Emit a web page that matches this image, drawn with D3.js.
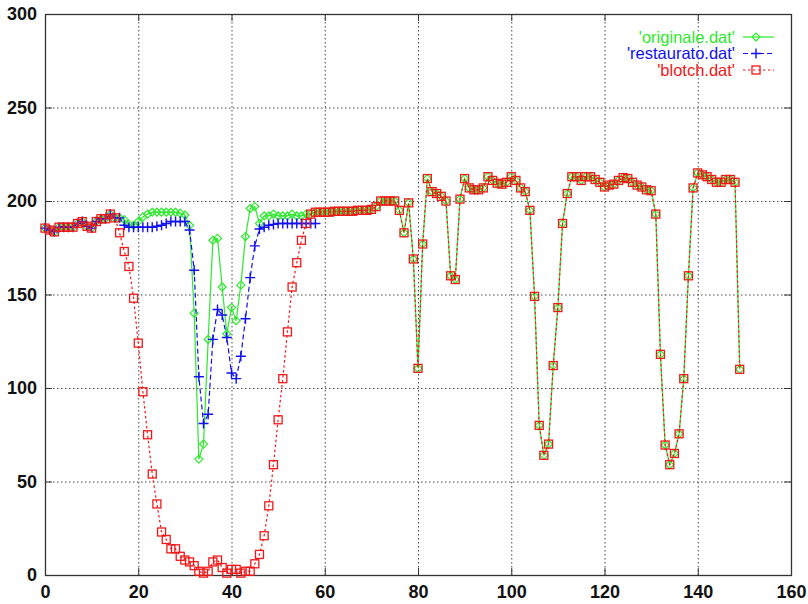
<!DOCTYPE html>
<html>
<head>
<meta charset="utf-8">
<script src="https://cdn.jsdelivr.net/npm/d3@7"></script>
<style>
  body { margin: 0; background: #fff; }
  #chart { width: 808px; height: 604px; }
  text { font-family: "Liberation Sans", Arial, Helvetica, sans-serif; }
</style>
</head>
<body>
<div id="chart"></div>
<script>
// values, index = sample number
const originale = [
  185.5, 184.5, 183.5, 186, 186, 186, 186, 188, 189, 186.5,
  185.5, 189, 190.5, 190.5, 193, 191, 191, 190, 187.5, 187,
  189, 191.5, 193, 194, 194, 194, 194, 194, 194, 193.5,
  192.5, 187, 140, 62, 70, 126, 179, 180, 154, 129,
  143, 136, 155, 181, 196, 197, 188, 192, 192, 193,
  192, 192, 192, 193, 192, 192, 193, 193, 194, 194,
  194, 194, 194.5, 194.5, 194.5, 194.5, 194.5, 195, 195, 195,
  195.5, 197, 200, 200, 200, 200, 195, 183, 199, 169,
  110.5, 177, 212, 205, 204, 202.5, 200, 160, 158, 201,
  212, 207, 206, 206, 207, 213, 211, 209.5, 209, 210,
  213, 211, 207, 205, 195, 149, 80, 64, 70, 112,
  143, 188, 204, 213, 213, 211, 213, 213, 211.5, 210,
  207.5, 208.5, 209, 211, 212.5, 212, 210, 208.5, 207.5, 206,
  205.5, 193, 118, 69.5, 59, 65, 75.5, 105, 160, 207,
  215, 214, 213, 211.5, 210, 210, 211.5, 211.5, 210, 110
];

const restaurato = [
  185.5, 184.5, 183.5, 186, 186, 186, 186, 188, 189, 186.5,
  185.5, 189, 190.5, 190.5, 193, 191, 191, 187, 186, 186,
  186, 186, 186, 186, 186.5, 187, 188, 189, 189, 189,
  189, 184.5, 163, 106, 81, 86, 126, 142, 139, 127,
  108, 105, 117, 137, 159, 176, 185, 186, 187, 187.5,
  188, 188, 188, 188, 188, 188, 188, 188, 188
];

const blotch = [
  185.5, 184.5, 183.5, 186, 186, 186, 186, 188, 189, 186.5,
  185.5, 189, 190.5, 190.5, 193, 191, 183, 173, 165, 148,
  124, 98, 75, 54, 38, 23, 19, 14, 14, 10,
  8, 7, 5, 2, 1, 2, 7, 8, 4, 1,
  3, 3, 1, 2, 2, 6, 11, 21, 37, 59,
  83, 105, 130, 154, 167, 179, 188, 193, 194, 194,
  194, 194, 194.5, 194.5, 194.5, 194.5, 194.5, 195, 195, 195,
  195.5, 197, 200, 200, 200, 200, 195, 183, 199, 169,
  110.5, 177, 212, 205, 204, 202.5, 200, 160, 158, 201,
  212, 207, 206, 206, 207, 213, 211, 209.5, 209, 210,
  213, 211, 207, 205, 195, 149, 80, 64, 70, 112,
  143, 188, 204, 213, 213, 211, 213, 213, 211.5, 210,
  207.5, 208.5, 209, 211, 212.5, 212, 210, 208.5, 207.5, 206,
  205.5, 193, 118, 69.5, 59, 65, 75.5, 105, 160, 207,
  215, 214, 213, 211.5, 210, 210, 211.5, 211.5, 210, 110
];

const xTicks = [0, 20, 40, 60, 80, 100, 120, 140, 160];
const yTicks = [0, 50, 100, 150, 200, 250, 300];

const seriesNames = ["'originale.dat'", "'restaurato.dat'", "'blotch.dat'"];
const seriesColors = ["#2ee82e", "#1010f0", "#f01818"];

function renderChart() {
  const width = 808;
  const height = 604;
  const left = 45, right = 791, top = 14, bottom = 575;

  const svg = d3.select("#chart")
    .append("svg")
    .attr("width", width)
    .attr("height", height);

  const x = d3.scaleLinear().domain([0, 160]).range([left, right]);
  const y = d3.scaleLinear().domain([0, 300]).range([bottom, top]);

  // grid lines (dotted)
  const grid = svg.append("g").attr("stroke", "#444").attr("stroke-width", 1)
    .attr("stroke-dasharray", "1.5,2.5");
  grid.selectAll(".gx")
    .data(xTicks.filter(d => d > 0 && d < 160))
    .enter().append("line")
    .attr("x1", d => x(d) + 0.5).attr("x2", d => x(d) + 0.5)
    .attr("y1", top).attr("y2", bottom);
  grid.selectAll(".gy")
    .data(yTicks.filter(d => d > 0 && d < 300))
    .enter().append("line")
    .attr("x1", left).attr("x2", right)
    .attr("y1", d => y(d) + 0.5).attr("y2", d => y(d) + 0.5);

  // axes with inward ticks, mirrored
  const tickLen = 7;
  const axes = [
    svg.append("g").attr("transform", `translate(0,${bottom})`)
      .call(d3.axisBottom(x).tickValues(xTicks).tickSize(-tickLen).tickPadding(10)),
    svg.append("g").attr("transform", `translate(${left},0)`)
      .call(d3.axisLeft(y).tickValues(yTicks).tickSize(-tickLen).tickPadding(8)),
    svg.append("g").attr("transform", `translate(0,${top})`)
      .call(d3.axisTop(x).tickValues(xTicks).tickSize(-tickLen).tickFormat("")),
    svg.append("g").attr("transform", `translate(${right},0)`)
      .call(d3.axisRight(y).tickValues(yTicks).tickSize(-tickLen).tickFormat(""))
  ];
  axes.forEach(a => {
    a.select(".domain").remove();
    a.selectAll("line").attr("stroke", "#333");
    a.selectAll("text")
      .attr("fill", "#111")
      .style("font-size", "18px")
      .style("font-weight", "bold");
  });

  // border
  svg.append("rect")
    .attr("x", left + 0.5).attr("y", top + 0.5)
    .attr("width", right - left).attr("height", bottom - top)
    .attr("fill", "none").attr("stroke", "#333").attr("stroke-width", 1.3);

  const line = d3.line().x((d, i) => x(i)).y(d => y(d));

  const diamond = (g, cx, cy, color) => g.append("path")
    .attr("d", `M${cx},${cy - 4}L${cx + 4},${cy}L${cx},${cy + 4}L${cx - 4},${cy}Z`)
    .attr("fill", "none").attr("stroke", color).attr("stroke-width", 1.2);
  const plus = (g, cx, cy, color) => g.append("path")
    .attr("d", `M${cx - 5},${cy}H${cx + 5}M${cx},${cy - 5}V${cy + 5}`)
    .attr("fill", "none").attr("stroke", color).attr("stroke-width", 1.4);
  const square = (g, cx, cy, color) => g.append("rect")
    .attr("x", cx - 4).attr("y", cy - 4).attr("width", 8).attr("height", 8)
    .attr("fill", "none").attr("stroke", color).attr("stroke-width", 1.3);

  const markers = [diamond, plus, square];
  const dashes = [null, "5,3", "2.5,2.5"];
  const data = [originale, restaurato, blotch];

  data.forEach((vals, k) => {
    const g = svg.append("g");
    g.append("path")
      .datum(vals)
      .attr("d", line)
      .attr("fill", "none")
      .attr("stroke", seriesColors[k])
      .attr("stroke-width", 1.2)
      .attr("stroke-dasharray", dashes[k]);
    vals.forEach((v, i) => markers[k](g, x(i), y(v), seriesColors[k]));
  });

  // legend
  const legend = svg.append("g");
  seriesNames.forEach((name, k) => {
    const ly = 37 + k * 16.5;
    legend.append("text")
      .attr("x", 735).attr("y", ly + 5.5)
      .attr("text-anchor", "end")
      .attr("fill", seriesColors[k])
      .style("font-size", "16.5px")
      .text(name);
    legend.append("line")
      .attr("x1", 743).attr("x2", 774)
      .attr("y1", ly).attr("y2", ly)
      .attr("stroke", seriesColors[k])
      .attr("stroke-width", 1.2)
      .attr("stroke-dasharray", dashes[k]);
    markers[k](legend, 756, ly, seriesColors[k]);
  });
}

renderChart();
</script>
</body>
</html>
